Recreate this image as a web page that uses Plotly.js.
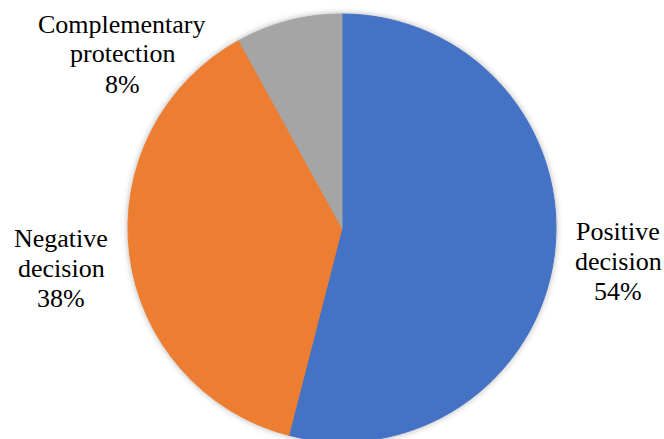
<!DOCTYPE html>
<html>
<head>
<meta charset="utf-8">
<script src="https://cdn.plot.ly/plotly-3.0.1.min.js"></script>
<style>
html,body{margin:0;padding:0;width:664px;height:439px;overflow:hidden;background:#fff;}
#chart{width:664px;height:460px;}
#chart .pielayer{filter:drop-shadow(0px 0px 3px rgba(0,0,0,0.3));}
#chart .annotation-text, #chart .annotation text{font-family:"Liberation Serif","Times New Roman",serif !important;}
</style>
</head>
<body>
<div id="chart"></div>
<script>
const categories = ["Positive decision", "Negative decision", "Complementary protection"];
const values = [54, 38, 8];
const colors = ["#4472C4", "#ED7D31", "#A5A5A5"];

const W = 664, H = 460;
const cx = 342, cy = 228, r = 214;
const FONT = "Liberation Serif, serif";
// label anchor positions (pixels): centre x, first line centre y
const labelPos = [
  {x: 618, y: 231},
  {x: 61, y: 238},
  {x: 122, y: 24}
];
const lineStep = 30;

const total = values.reduce((a, b) => a + b, 0);
const annotations = [];
categories.forEach((c, i) => {
  const lines = c.split(" ").concat([Math.round(values[i] / total * 100) + "%"]);
  lines.forEach((t, j) => {
    annotations.push({
      text: t, xref: "paper", yref: "paper",
      x: labelPos[i].x / W, y: 1 - (labelPos[i].y + j * lineStep) / H,
      xanchor: "center", yanchor: "middle", showarrow: false,
      font: {family: FONT, size: 26, color: "#000"}
    });
  });
});

const trace = {
  type: "pie",
  labels: categories,
  values: values,
  sort: false,
  direction: "clockwise",
  rotation: 0,
  textinfo: "none",
  hoverinfo: "label+percent",
  marker: {colors: colors, line: {width: 1, color: colors}},
  domain: {x: [(cx - r) / W, (cx + r) / W], y: [1 - (cy + r) / H, 1 - (cy - r) / H]},
  showlegend: false
};

Plotly.newPlot("chart", [trace], {
  width: W, height: H,
  margin: {l: 0, r: 0, t: 0, b: 0},
  paper_bgcolor: "#fff",
  font: {family: FONT, size: 26, color: "#000"},
  showlegend: false,
  annotations: annotations
}, {displayModeBar: false, staticPlot: true});
</script>
</body>
</html>
